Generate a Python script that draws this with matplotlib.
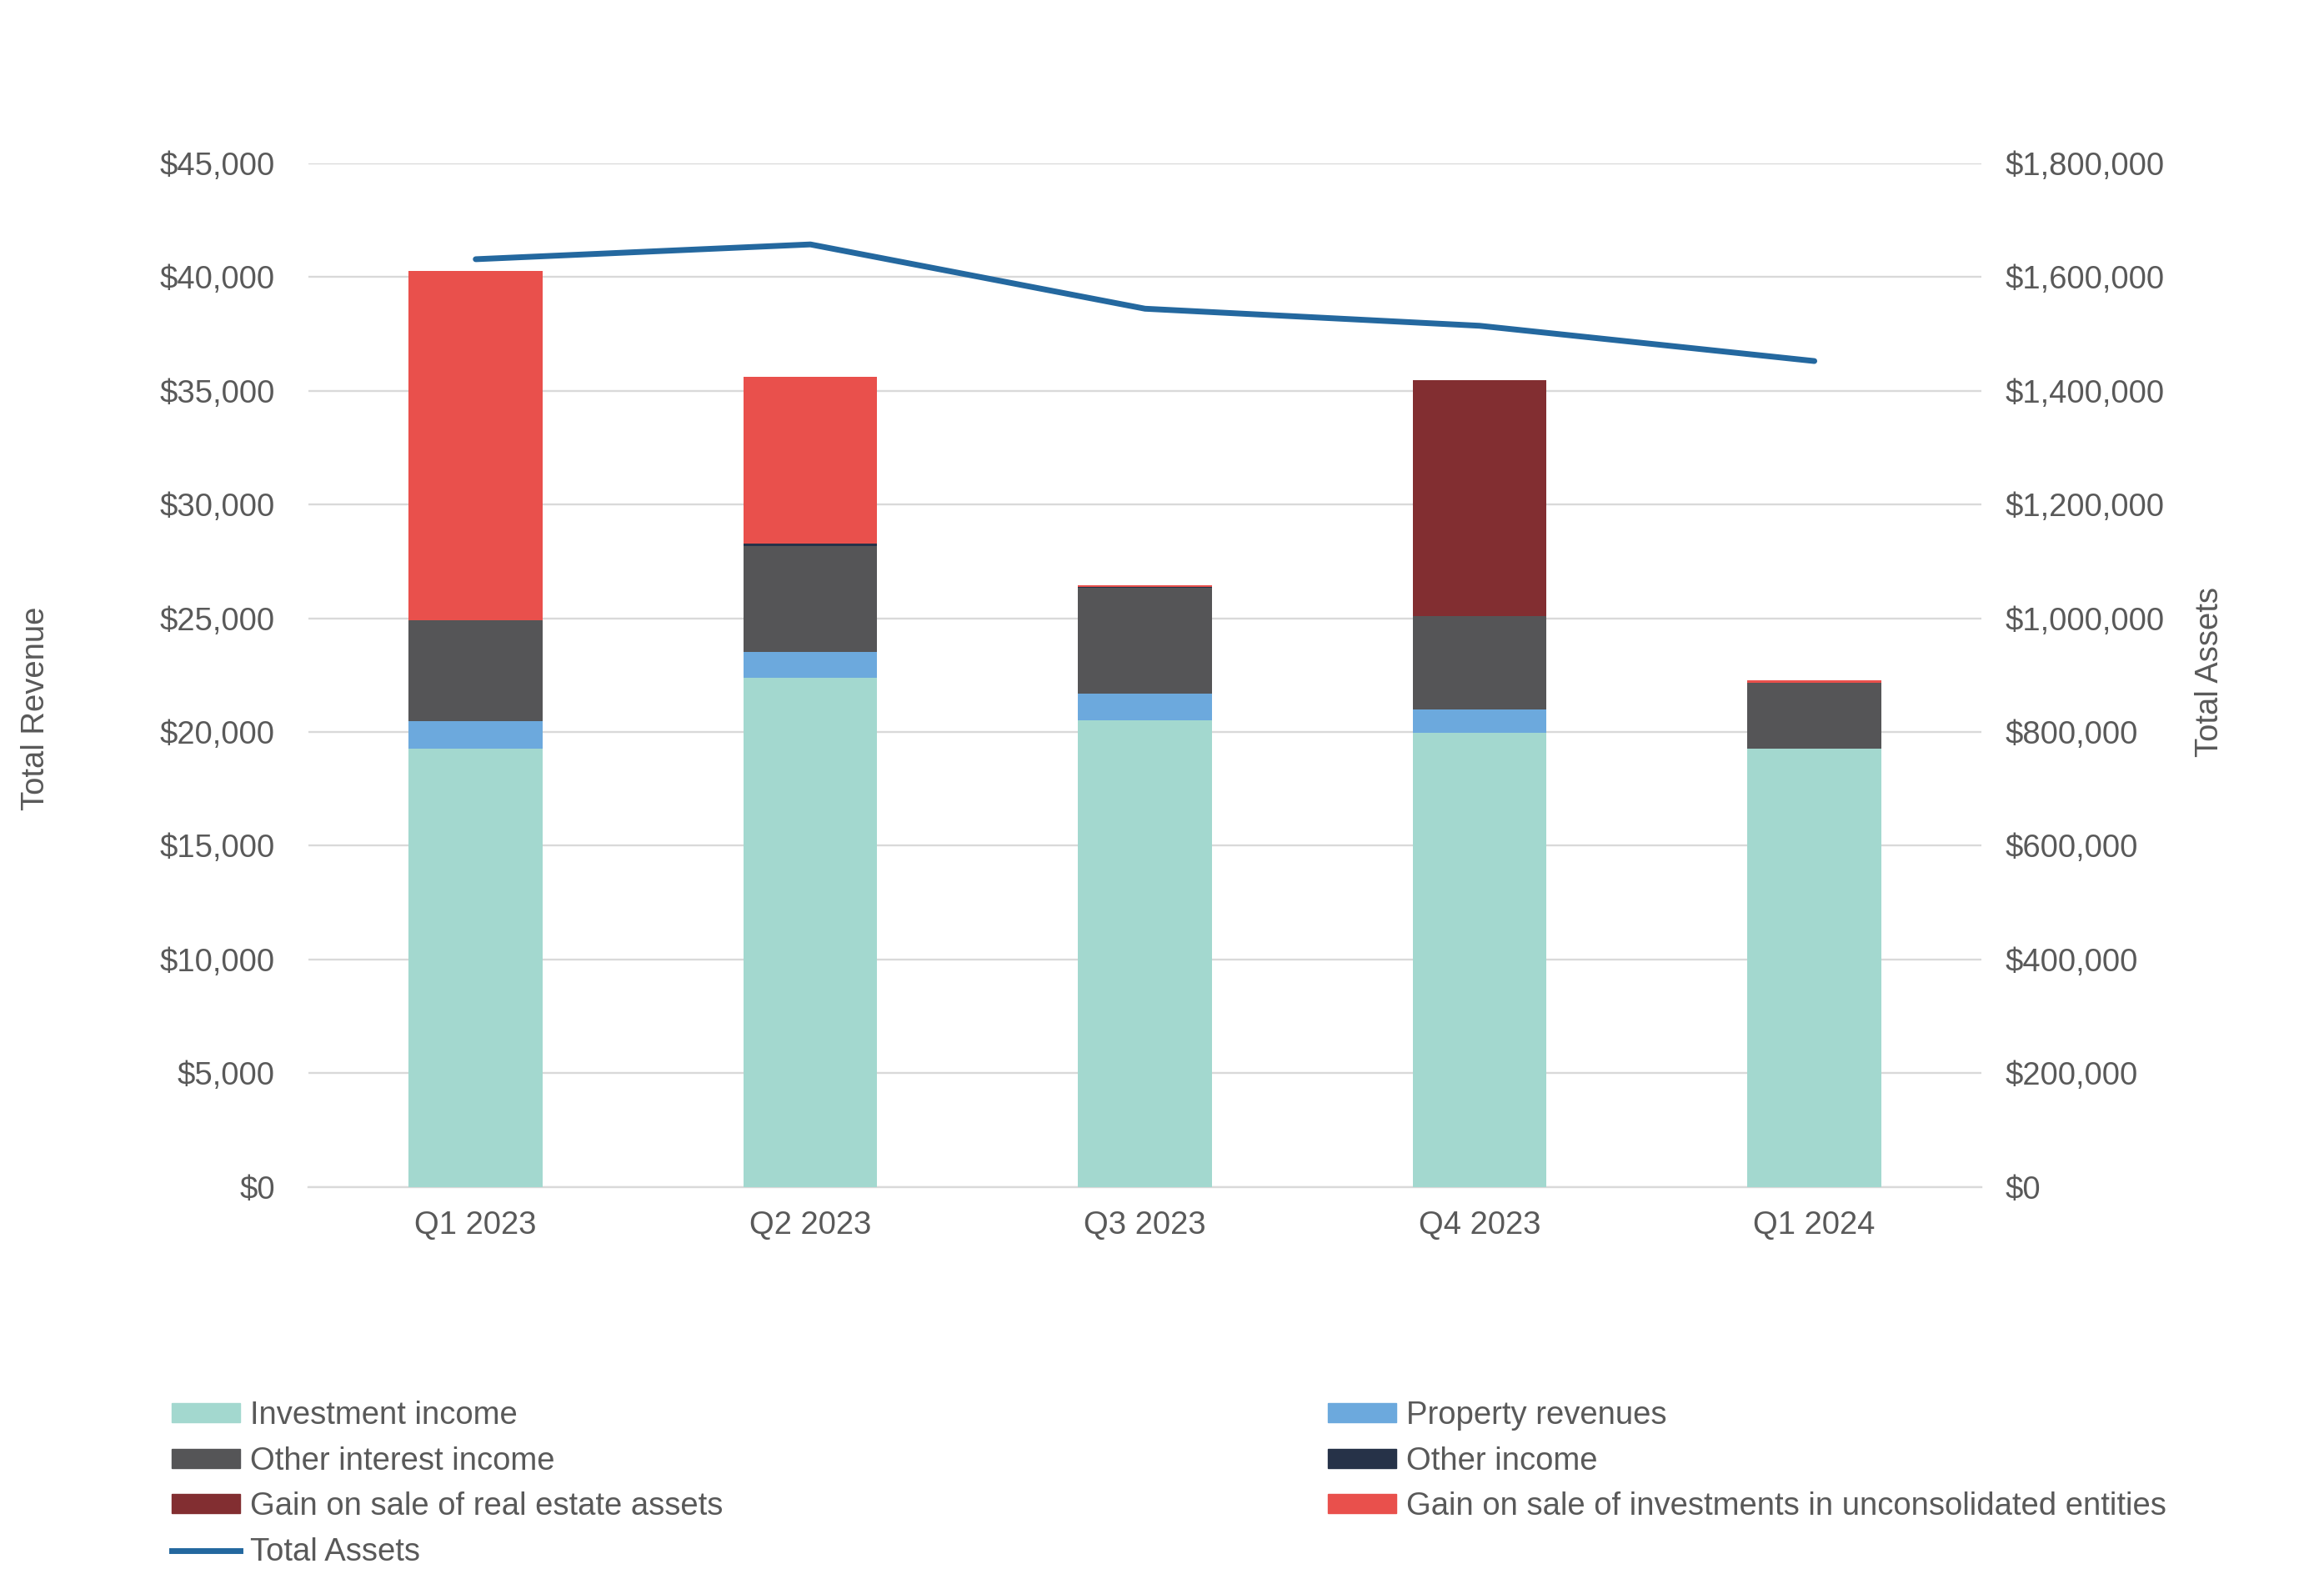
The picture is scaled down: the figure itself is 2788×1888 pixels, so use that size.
import matplotlib
matplotlib.use("Agg")
import matplotlib.pyplot as plt
import matplotlib.patches as mpatches
import matplotlib.lines as mlines
from matplotlib.ticker import FuncFormatter, MultipleLocator

quarters = ["Q1 2023", "Q2 2023", "Q3 2023", "Q4 2023", "Q1 2024"]

# revenue components (thousands)
investment_income = [19271, 22384, 20516, 19970, 19256]
property_revenues = [1215, 1124, 1185, 1032, 0]
other_interest_income = [4434, 4647, 4640, 4085, 2916]
other_income = [0, 137, 30, 0, 0]
gain_real_estate = [0, 0, 0, 10388, 0]
gain_unconsolidated = [15353, 7319, 90, 0, 106]

total_assets = [1631000, 1657000, 1544000, 1514000, 1452000]

series = [
    ("Investment income", investment_income, "#A3D8CF"),
    ("Property revenues", property_revenues, "#6CA9DD"),
    ("Other interest income", other_interest_income, "#555557"),
    ("Other income", other_income, "#263248"),
    ("Gain on sale of real estate assets", gain_real_estate, "#822E31"),
    ("Gain on sale of investments in unconsolidated entities", gain_unconsolidated, "#E9504C"),
]
line_color = "#24689F"
text_color = "#595959"
fs = 27.5

plt.rcParams['font.family'] = ['Liberation Sans', 'DejaVu Sans']

fig = plt.figure(figsize=(27.88, 18.88), dpi=100)
ax = fig.add_axes([0.1327, 0.2458, 0.72, 0.6506])
ax2 = ax.twinx()

x = list(range(len(quarters)))
bottom = [0] * len(quarters)
handles = {}
for name, vals, col in series:
    ax.bar(x, vals, width=0.4, bottom=bottom, color=col, zorder=3)
    bottom = [b + v for b, v in zip(bottom, vals)]
    handles[name] = mpatches.Patch(color=col, label=name)

ax2.plot(x, total_assets, color=line_color, linewidth=5, solid_capstyle='round',
         solid_joinstyle='round', zorder=4)
handles["Total Assets"] = mlines.Line2D([], [], color=line_color, linewidth=5, label="Total Assets")

ax.set_xlim(-0.5, 4.5)
ax.set_ylim(0, 45000)
ax2.set_ylim(0, 1800000)
ax.yaxis.set_major_locator(MultipleLocator(5000))
ax2.yaxis.set_major_locator(MultipleLocator(200000))
ax.yaxis.set_major_formatter(FuncFormatter(lambda v, p: "${:,.0f}".format(v)))
ax2.yaxis.set_major_formatter(FuncFormatter(lambda v, p: "${:,.0f}".format(v)))
ax.set_xticks(x)
ax.set_xticklabels(quarters)

ax.grid(axis='y', color='#D9D9D9', linewidth=1.7, zorder=0)
ax.set_axisbelow(True)
for a in (ax, ax2):
    for s in a.spines.values():
        s.set_visible(False)
    a.tick_params(length=0, labelsize=fs, labelcolor=text_color)
ax.spines['bottom'].set_visible(True)
ax.spines['bottom'].set_color('#D9D9D9')
ax.spines['bottom'].set_linewidth(1.7)
ax.tick_params(axis='y', pad=29)
ax.tick_params(axis='x', pad=20)
ax2.tick_params(axis='y', pad=20)

fig.text(0.0153, 0.55, "Total Revenue", rotation=90, ha='center', va='center',
         fontsize=fs, color=text_color)
fig.text(0.951, 0.573, "Total Assets", rotation=90, ha='center', va='center',
         fontsize=fs, color=text_color)

col1 = ["Investment income", "Other interest income", "Gain on sale of real estate assets", "Total Assets"]
col2 = ["Property revenues", "Other income", "Gain on sale of investments in unconsolidated entities"]
for names, xpos in ((col1, 116 / 1568), (col2, 896 / 1568)):
    leg = fig.legend([handles[n] for n in names], names, loc='upper left',
                     bbox_to_anchor=(xpos, 1 - 945 / 1062), frameon=False,
                     fontsize=fs, handlelength=2.15, handleheight=0.55,
                     handletextpad=0.3, labelspacing=0.49, borderpad=0,
                     borderaxespad=0)
    for t in leg.get_texts():
        t.set_color(text_color)

fig.savefig("out.png", dpi=100, facecolor='white')
